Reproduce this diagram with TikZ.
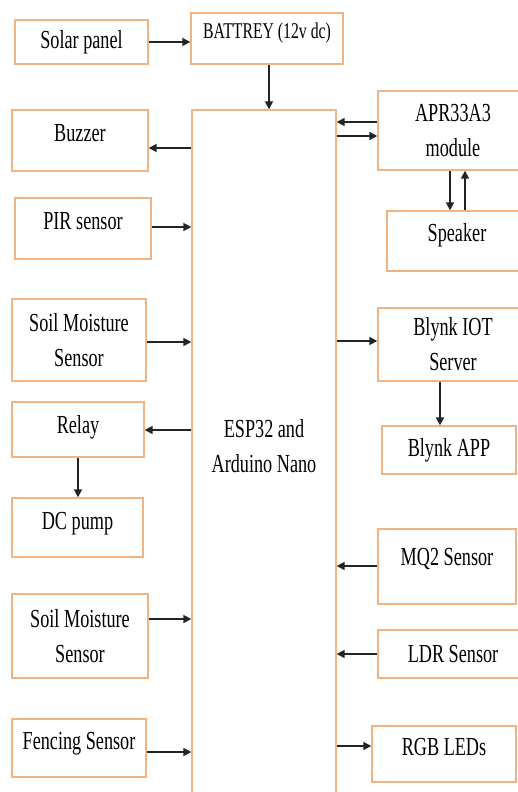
\documentclass[tikz,border=0pt]{standalone}
\usepackage{fontspec}
\setmainfont{Liberation Serif}[FakeStretch=0.7]
\usepackage{tikz}
\usetikzlibrary{arrows.meta}

\definecolor{boxline}{RGB}{240,180,130}
\definecolor{wire}{RGB}{35,35,35}

\begin{document}
\begin{tikzpicture}[x=1pt, y=-1pt,
  blk/.style={draw=boxline, line width=1.4pt, fill=white, align=center,
    inner sep=0pt, font=\fontsize{26}{35}\selectfont},
  raised/.style={text depth=#1},
  wire/.style={draw=wire, line width=1.7pt, -{Triangle[length=8pt, width=8pt]}}]
  \useasboundingbox (0,0) rectangle (518,792);
  \clip (0,0) rectangle (518,792);

  % main controller
  \node[blk, minimum width=144, minimum height=690, raised=18pt] (esp) at (264,455) {ESP32 and\\Arduino Nano};

  % left column
  \node[blk, minimum width=133, minimum height=44] (solar) at (81.5,42) {Solar panel};
  \node[blk, minimum width=136, minimum height=61, raised=16pt] (buzzer) at (80,140.5) {Buzzer};
  \node[blk, minimum width=136, minimum height=61, raised=15pt] (pir) at (83,228.5) {PIR sensor};
  \node[blk, minimum width=134, minimum height=82] (soila) at (79,340) {Soil Moisture\\Sensor};
  \node[blk, minimum width=132, minimum height=55, raised=11pt] (relay) at (78,429.5) {Relay};
  \node[blk, minimum width=131, minimum height=59, raised=13pt] (pump) at (77.5,527.5) {DC pump};
  \node[blk, minimum width=136, minimum height=84] (soilb) at (80,636) {Soil Moisture\\Sensor};
  \node[blk, minimum width=134, minimum height=58, raised=14pt] (fence) at (79,748) {Fencing Sensor};

  % top and right column
  \node[blk, minimum width=152, minimum height=51, raised=15pt, font=\fontsize{22.5}{30}\selectfont] (batt) at (267,38.5) {BATTREY (12v dc)};
  \node[blk, minimum width=150, minimum height=79] (apr) at (453,130.5) {APR33A3\\module};
  \node[blk, minimum width=140, minimum height=60, raised=18pt] (spk) at (457,241) {Speaker};
  \node[blk, minimum width=150, minimum height=73] (iot) at (453,344.5) {Blynk IOT\\Server};
  \node[blk, minimum width=134, minimum height=48] (app) at (449,450) {Blynk APP};
  \node[blk, minimum width=138, minimum height=75, raised=19pt] (mq) at (447,566.5) {MQ2 Sensor};
  \node[blk, minimum width=150, minimum height=48] (ldr) at (453,654) {LDR Sensor};
  \node[blk, minimum width=144, minimum height=56, raised=14pt] (rgb) at (444,754) {RGB LEDs};

  % connections (yshift counts upwards)
  \draw[wire] (solar.east) -- (batt.west |- solar.east);
  \draw[wire] (batt.south -| 269,0) -- (esp.north -| 269,0);
  \draw[wire] ([yshift=-7.5]buzzer.east -| esp.west) -- ([yshift=-7.5]buzzer.east);
  \draw[wire] ([yshift=1.5]pir.east) -- ([yshift=1.5]pir.east -| esp.west);
  \draw[wire] ([yshift=-2]soila.east) -- ([yshift=-2]soila.east -| esp.west);
  \draw[wire] ([yshift=-0.5]relay.east -| esp.west) -- ([yshift=-0.5]relay.east);
  \draw[wire] (relay.south -| 78,0) -- (pump.north -| 78,0);
  \draw[wire] ([yshift=17]soilb.east) -- ([yshift=17]soilb.east -| esp.west);
  \draw[wire] ([yshift=-4]fence.east) -- ([yshift=-4]fence.east -| esp.west);
  \draw[wire] ([yshift=8.5]apr.west) -- ([yshift=8.5]apr.west -| esp.east);
  \draw[wire] ([yshift=-5.5]apr.west -| esp.east) -- ([yshift=-5.5]apr.west);
  \draw[wire] (apr.south -| 450,0) -- (spk.north -| 450,0);
  \draw[wire] (spk.north -| 465,0) -- (apr.south -| 465,0);
  \draw[wire] ([yshift=3.5]iot.west -| esp.east) -- ([yshift=3.5]iot.west);
  \draw[wire] (iot.south -| 440,0) -- (app.north -| 440,0);
  \draw[wire] ([yshift=0.5]mq.west) -- ([yshift=0.5]mq.west -| esp.east);
  \draw[wire] (ldr.west) -- (ldr.west -| esp.east);
  \draw[wire] ([yshift=8]rgb.west -| esp.east) -- ([yshift=8]rgb.west);
\end{tikzpicture}
\end{document}
